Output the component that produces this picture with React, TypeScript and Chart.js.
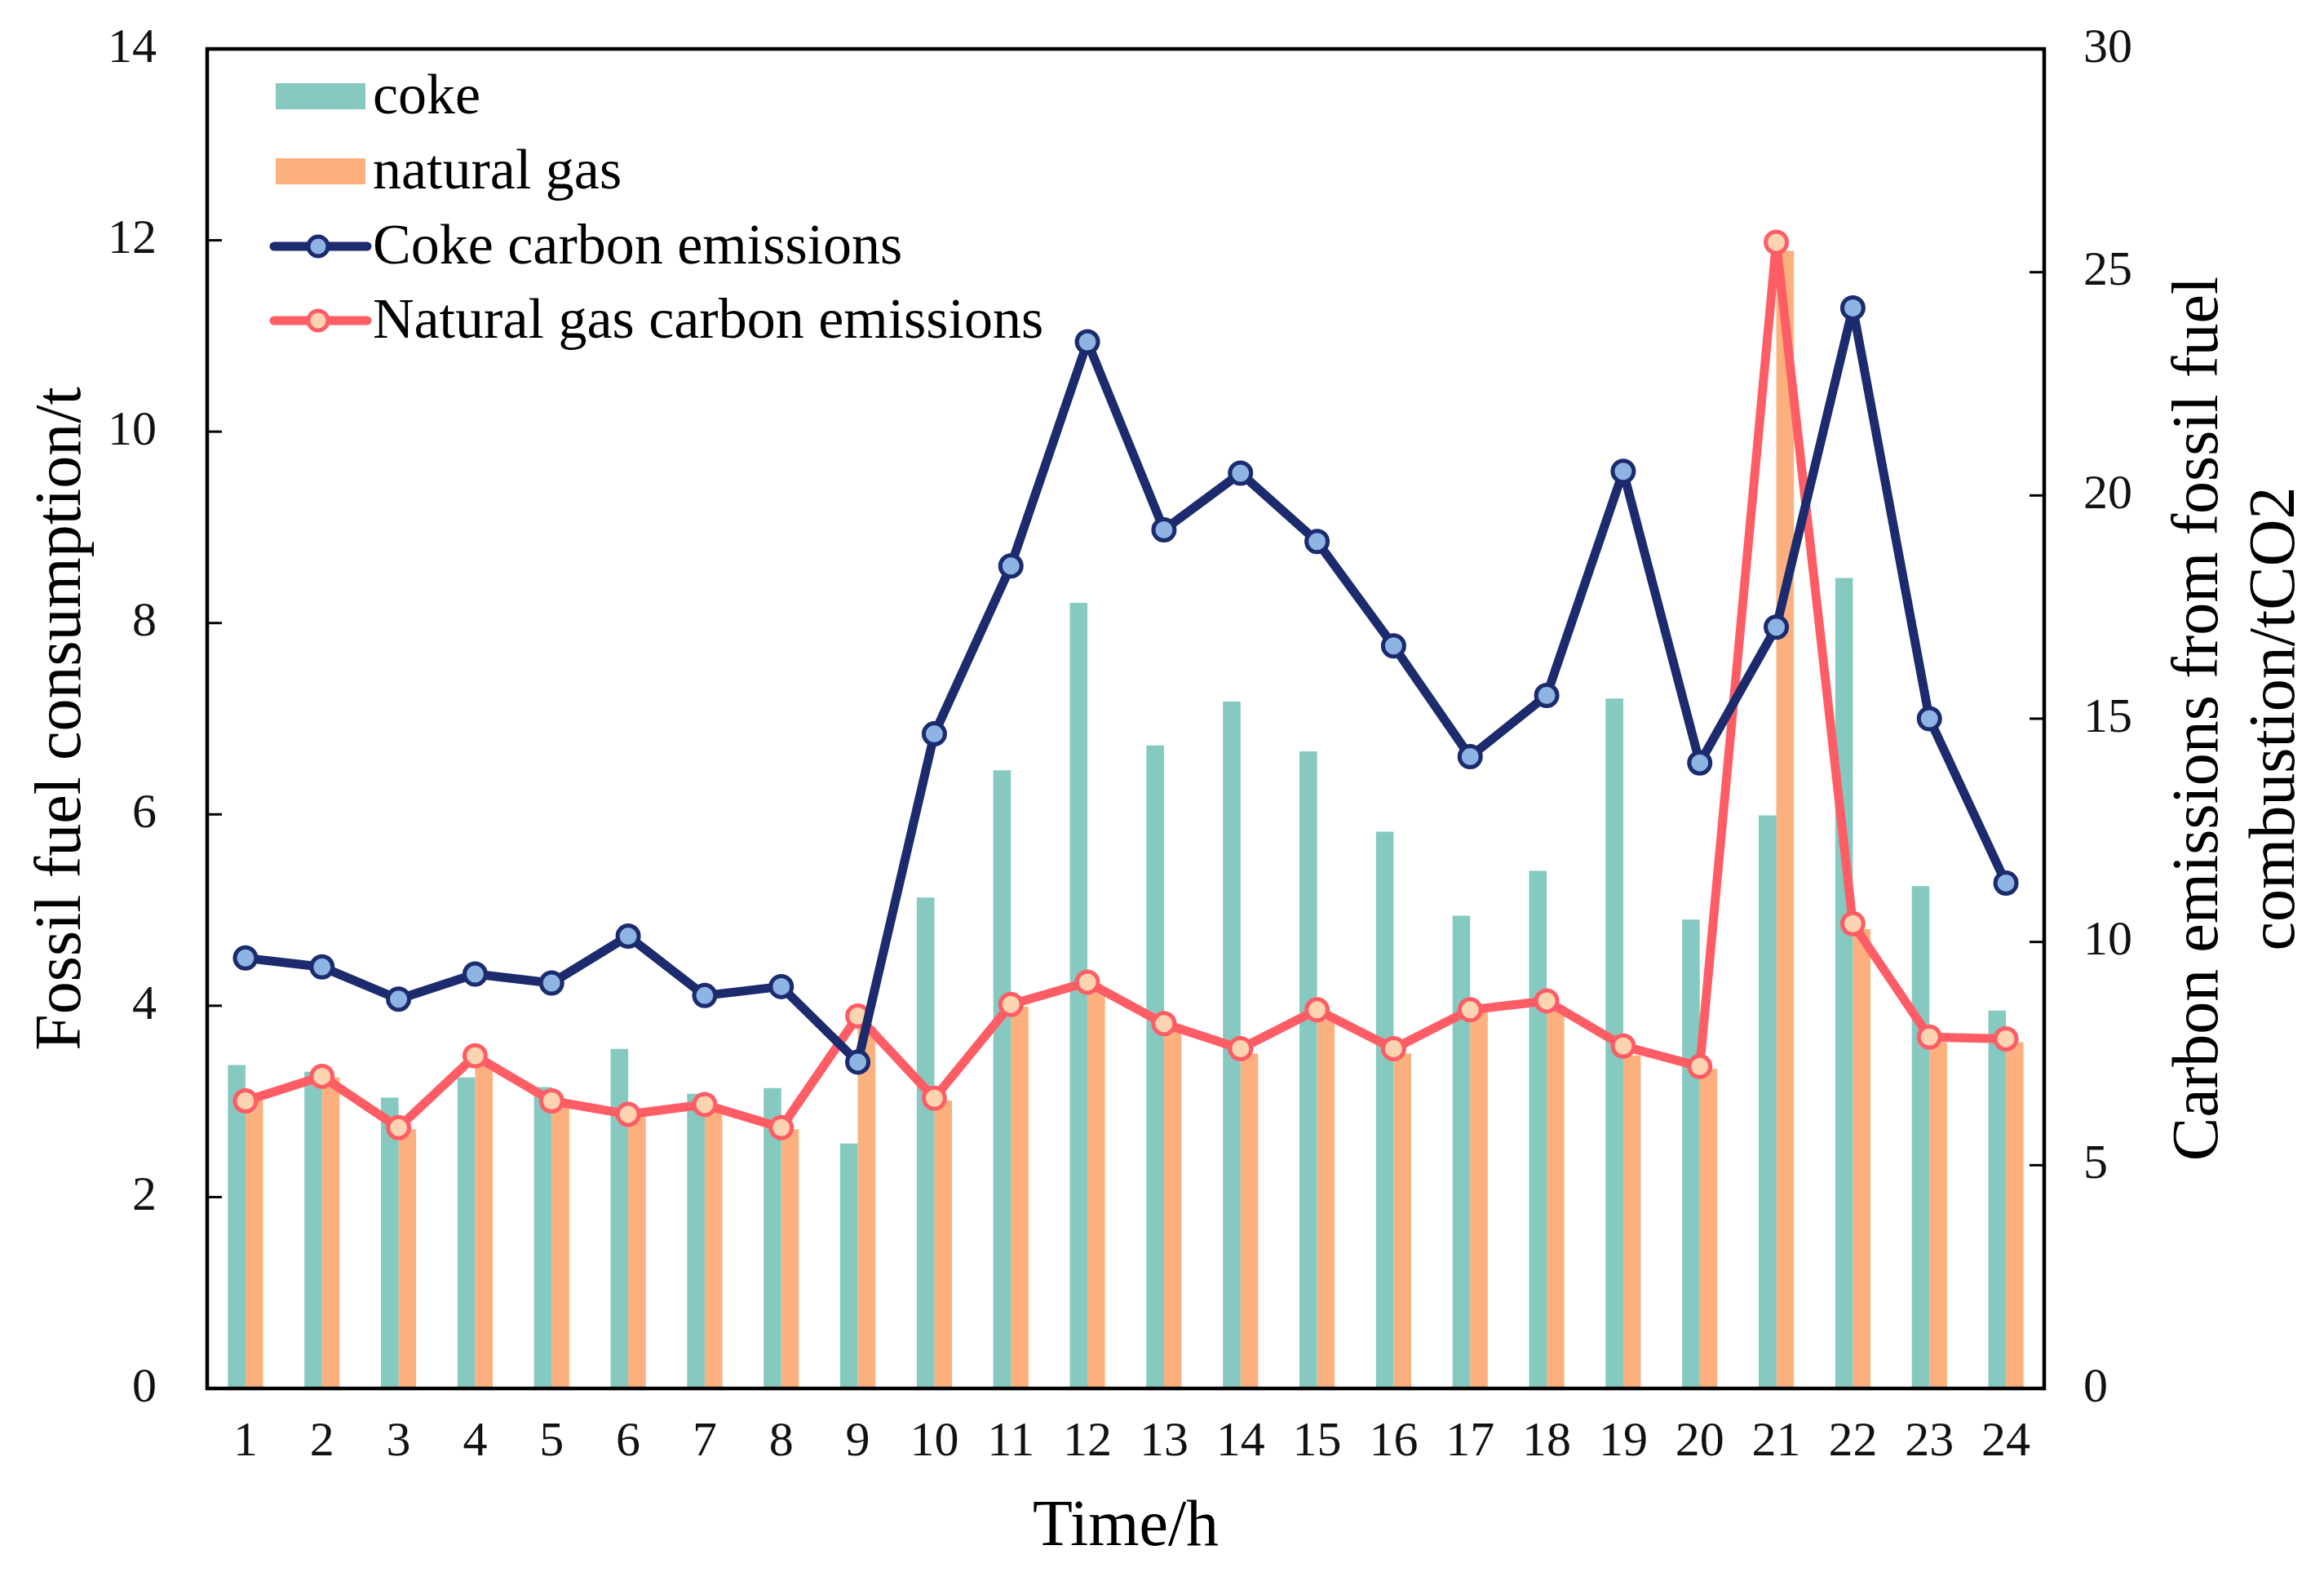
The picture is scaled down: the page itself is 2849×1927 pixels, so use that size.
import React, { useEffect, useRef } from "react";
import { Chart, registerables } from "chart.js";

Chart.register(...registerables);

const hours = ["1","2","3","4","5","6","7","8","9","10","11","12","13","14","15","16","17","18","19","20","21","22","23","24"];
const cokeConsumption = [3.38,3.31,3.04,3.25,3.15,3.55,3.08,3.14,2.56,5.13,6.46,8.21,6.72,7.18,6.66,5.82,4.94,5.41,7.21,4.90,5.99,8.47,5.25,3.95];
const gasConsumption = [3.01,3.25,2.71,3.43,3.01,2.85,2.92,2.71,3.78,3.01,3.99,4.17,3.75,3.50,3.85,3.50,3.94,3.99,3.48,3.34,11.89,4.80,3.62,3.62];
const cokeEmissions = [9.64,9.44,8.72,9.28,9.08,10.13,8.80,9.00,7.31,14.66,18.42,23.44,19.23,20.50,18.97,16.63,14.15,15.52,20.54,14.01,17.05,24.20,15.00,11.32];
const gasEmissions = [6.44,6.99,5.84,7.45,6.44,6.14,6.36,5.84,8.34,6.50,8.60,9.10,8.17,7.61,8.48,7.61,8.48,8.68,7.67,7.21,25.67,10.41,7.87,7.83];

const leftTitle = "Fossil fuel consumption/t";
const rightTitle = ["Carbon emissions from fossil fuel", "combustion/tCO2"];
const xTitle = "Time/h";
const legendLabels = ["coke", "natural gas", "Coke carbon emissions", "Natural gas carbon emissions"];

const FONT = "'Liberation Serif', 'Times New Roman', serif";
const W = 2849;
const H = 1927;
const AREA = { left: 254, right: 2506, top: 60, bottom: 1702 };

const C_COKE = "#86C9C1";
const C_GAS = "#FBB07E";
const C_BLUE = "#1B2B6E";
const C_BLUE_FILL = "#8DB4E3";
const C_RED = "#FF5D66";
const C_RED_FILL = "#FDD4B2";

const decorPlugin = {
  id: "decor",
  afterDraw(chart: any) {
    const { ctx, chartArea: a, scales } = chart;
    ctx.save();
    ctx.strokeStyle = "#000";
    ctx.lineWidth = 4.5;
    ctx.strokeRect(a.left, a.top, a.right - a.left, a.bottom - a.top);
    ctx.lineWidth = 3;
    const tl = 18;
    scales.y.ticks.forEach((t: any) => {
      const py = scales.y.getPixelForValue(t.value);
      ctx.beginPath();
      ctx.moveTo(a.left, py);
      ctx.lineTo(a.left + tl, py);
      ctx.stroke();
    });
    scales.y1.ticks.forEach((t: any) => {
      const py = scales.y1.getPixelForValue(t.value);
      ctx.beginPath();
      ctx.moveTo(a.right, py);
      ctx.lineTo(a.right - tl, py);
      ctx.stroke();
    });
    ctx.fillStyle = "#000";
    ctx.font = `80px ${FONT}`;
    ctx.textAlign = "center";
    ctx.textBaseline = "alphabetic";
    const cy = (a.top + a.bottom) / 2;
    ctx.save();
    ctx.translate(98, cy);
    ctx.rotate(-Math.PI / 2);
    ctx.fillText(leftTitle, 0, 0);
    ctx.restore();
    const rx = [2718, 2812];
    rightTitle.forEach((line, i) => {
      ctx.save();
      ctx.translate(rx[i], cy);
      ctx.rotate(-Math.PI / 2);
      ctx.fillText(line, 0, 0);
      ctx.restore();
    });
    ctx.fillText(xTitle, (a.left + a.right) / 2, 1894);
    const rows = [118, 210, 302, 393];
    ctx.font = `70px ${FONT}`;
    ctx.textAlign = "left";
    ctx.textBaseline = "alphabetic";
    const ds = chart.data.datasets;
    rows.forEach((ry, i) => {
      const d = ds[i];
      if (d.type === "bar") {
        ctx.fillStyle = d.backgroundColor;
        ctx.fillRect(338, ry - 16, 110, 32);
      } else {
        ctx.strokeStyle = d.borderColor;
        ctx.lineWidth = 11;
        ctx.lineCap = "round";
        ctx.beginPath();
        ctx.moveTo(336, ry);
        ctx.lineTo(450, ry);
        ctx.stroke();
        ctx.beginPath();
        ctx.arc(390, ry, 12, 0, Math.PI * 2);
        ctx.fillStyle = d.pointBackgroundColor;
        ctx.fill();
        ctx.lineWidth = 5;
        ctx.strokeStyle = d.pointBorderColor;
        ctx.stroke();
      }
      ctx.fillStyle = "#000";
      ctx.fillText(legendLabels[i], 457, ry + 21);
    });
    ctx.restore();
  },
};

export default function App() {
  const ref = useRef<HTMLCanvasElement | null>(null);
  useEffect(() => {
    if (!ref.current) return;
    Chart.defaults.font.family = FONT;
    const lineCommon = {
      type: "line",
      borderWidth: 11,
      pointRadius: 13,
      pointBorderWidth: 5,
      tension: 0,
      yAxisID: "y1",
      borderJoinStyle: "round",
      borderCapStyle: "round",
    };
    const chart = new Chart(ref.current, {
      type: "bar",
      data: {
        labels: hours,
        datasets: [
          {
            type: "bar",
            label: legendLabels[0],
            data: cokeConsumption,
            backgroundColor: C_COKE,
            borderWidth: 0,
            yAxisID: "y",
            order: 3,
            categoryPercentage: 0.46,
            barPercentage: 1.0,
          },
          {
            type: "bar",
            label: legendLabels[1],
            data: gasConsumption,
            backgroundColor: C_GAS,
            borderWidth: 0,
            yAxisID: "y",
            order: 3,
            categoryPercentage: 0.46,
            barPercentage: 1.0,
          },
          {
            ...lineCommon,
            label: legendLabels[2],
            data: cokeEmissions,
            borderColor: C_BLUE,
            pointBackgroundColor: C_BLUE_FILL,
            pointBorderColor: C_BLUE,
            order: 1,
          },
          {
            ...lineCommon,
            label: legendLabels[3],
            data: gasEmissions,
            borderColor: C_RED,
            pointBackgroundColor: C_RED_FILL,
            pointBorderColor: C_RED,
            order: 2,
          },
        ] as any,
      },
      options: {
        animation: false,
        responsive: false,
        devicePixelRatio: 1,
        layout: { padding: { top: AREA.top, left: 0, right: 0, bottom: 0 } },
        plugins: { legend: { display: false }, tooltip: { enabled: false } },
        scales: {
          x: {
            type: "category",
            offset: true,
            grid: { display: false, drawTicks: false },
            border: { display: false },
            ticks: { color: "#111", font: { size: 60, family: FONT }, padding: 30, maxRotation: 0, autoSkip: false },
            afterFit: (s: any) => { s.height = H - AREA.bottom; s.paddingLeft = 0; s.paddingRight = 0; },
          },
          y: {
            type: "linear",
            position: "left",
            min: 0,
            max: 14,
            ticks: { stepSize: 2, color: "#111", font: { size: 60, family: FONT }, padding: 62 },
            grid: { display: false, drawTicks: false },
            border: { display: false },
            afterFit: (s: any) => { s.width = AREA.left; s.paddingTop = 0; s.paddingBottom = 0; },
          },
          y1: {
            type: "linear",
            position: "right",
            min: 0,
            max: 30,
            ticks: { stepSize: 5, color: "#111", font: { size: 60, family: FONT }, padding: 48 },
            grid: { display: false, drawTicks: false, drawOnChartArea: false },
            border: { display: false },
            afterFit: (s: any) => { s.width = W - AREA.right; s.paddingTop = 0; s.paddingBottom = 0; },
          },
        },
      } as any,
      plugins: [decorPlugin],
    });
    return () => chart.destroy();
  }, []);
  return (
    <div style={{ position: "absolute", left: 0, top: 0, width: W, height: H, background: "#fff" }}>
      <canvas ref={ref} width={W} height={H} style={{ width: W, height: H, display: "block" }} />
    </div>
  );
}
